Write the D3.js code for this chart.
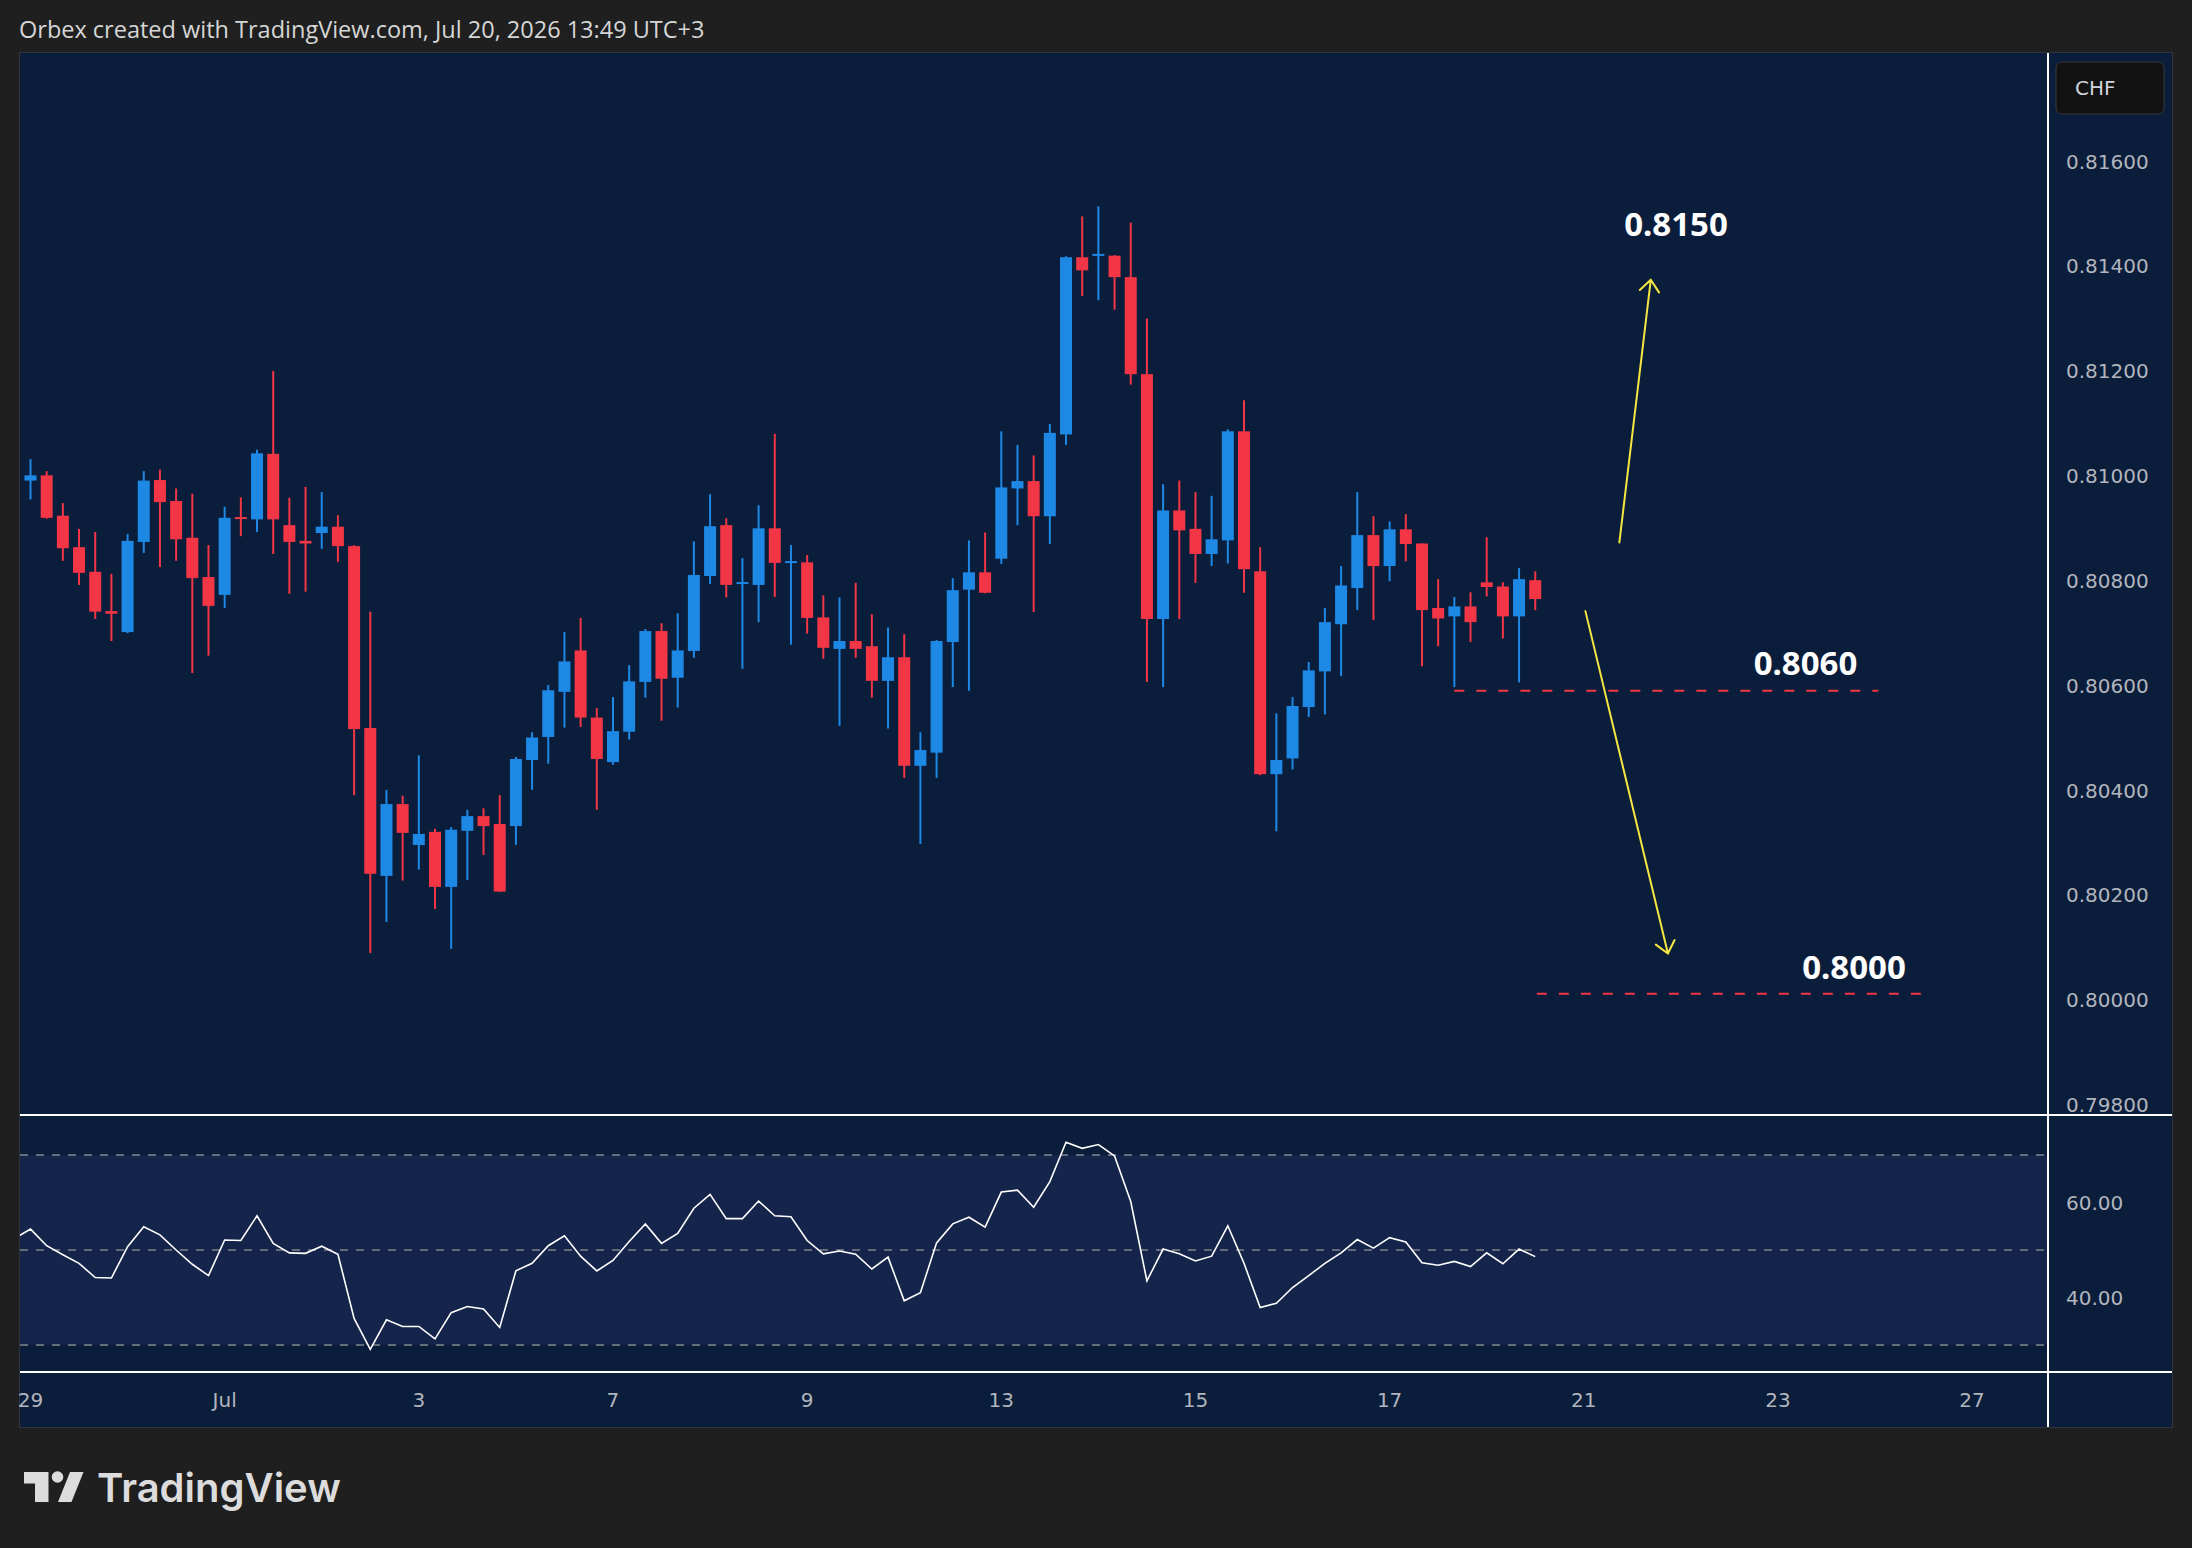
<!DOCTYPE html>
<html>
<head>
<meta charset="utf-8">
<script src="https://cdn.jsdelivr.net/npm/d3@7"></script>
<style>
  body { margin: 0; background: #1f1f1f; }
  svg { display: block; }
</style>
</head>
<body>
<div id="chart"></div>
<script>
// 4H USD/CHF candles, Jun 29 -> Jul 20
var openP  = [0.80991,0.81001,0.80924,0.80864,0.80817,0.80742,0.80702,0.80874,0.80992,0.80952,
              0.80882,0.80807,0.80773,0.80921,0.80917,0.81042,0.80906,0.80876,0.80891,0.80903,
              0.80866,0.80519,0.80237,0.80374,0.80296,0.80321,0.80216,0.80323,0.80351,0.80336,
              0.80332,0.80458,0.80502,0.80588,0.80667,0.80539,0.80454,0.80512,0.80607,0.80704,
              0.80615,0.80666,0.80809,0.80906,0.80794,0.80792,0.80900,0.80834,0.80835,0.80730,
              0.80670,0.80685,0.80675,0.80609,0.80654,0.80447,0.80472,0.80683,0.80783,0.80816,
              0.80842,0.80976,0.80990,0.80923,0.81079,0.81417,0.81420,0.81420,0.81379,0.81194,
              0.80727,0.80934,0.80899,0.80851,0.80877,0.81085,0.80818,0.80431,0.80461,0.80559,
              0.80627,0.80717,0.80786,0.80887,0.80828,0.80898,0.80871,0.80748,0.80732,0.80751,
              0.80797,0.80789,0.80732,0.80801];
var highP  = [0.81032,0.81009,0.80948,0.80899,0.80893,0.80813,0.80889,0.81009,0.81012,0.80976,
              0.80966,0.80868,0.80941,0.80959,0.81050,0.81200,0.80958,0.80979,0.80969,0.80925,
              0.80868,0.80741,0.80401,0.80390,0.80467,0.80327,0.80330,0.80363,0.80366,0.80391,
              0.80464,0.80511,0.80601,0.80702,0.80729,0.80557,0.80578,0.80639,0.80708,0.80719,
              0.80738,0.80875,0.80965,0.80919,0.80843,0.80944,0.81080,0.80868,0.80849,0.80772,
              0.80768,0.80796,0.80736,0.80711,0.80698,0.80511,0.80687,0.80805,0.80877,0.80892,
              0.81085,0.81059,0.81039,0.81099,0.81419,0.81495,0.81514,0.81421,0.81483,0.81300,
              0.80984,0.80991,0.80969,0.80962,0.81089,0.81144,0.80864,0.80547,0.80578,0.80645,
              0.80748,0.80828,0.80969,0.80923,0.80913,0.80927,0.80871,0.80803,0.80769,0.80778,
              0.80883,0.80797,0.80824,0.80818];
var lowP   = [0.80955,0.80918,0.80838,0.80792,0.80727,0.80685,0.80700,0.80853,0.80826,0.80838,
              0.80624,0.80657,0.80748,0.80885,0.80893,0.80851,0.80775,0.80779,0.80861,0.80836,
              0.80391,0.80090,0.80149,0.80228,0.80249,0.80174,0.80098,0.80229,0.80277,0.80207,
              0.80296,0.80401,0.80451,0.80520,0.80521,0.80363,0.80449,0.80497,0.80577,0.80533,
              0.80558,0.80653,0.80794,0.80768,0.80632,0.80721,0.80769,0.80678,0.80699,0.80651,
              0.80523,0.80653,0.80577,0.80518,0.80424,0.80298,0.80424,0.80597,0.80590,0.80776,
              0.80832,0.80906,0.80740,0.80870,0.81059,0.81343,0.81335,0.81317,0.81174,0.80607,
              0.80597,0.80727,0.80796,0.80828,0.80833,0.80777,0.80429,0.80322,0.80440,0.80540,
              0.80545,0.80618,0.80744,0.80725,0.80799,0.80837,0.80637,0.80675,0.80597,0.80683,
              0.80770,0.80690,0.80606,0.80744];
var closeP = [0.81001,0.80920,0.80862,0.80815,0.80741,0.80737,0.80876,0.80991,0.80950,0.80879,
              0.80805,0.80752,0.80920,0.80918,0.81043,0.80917,0.80874,0.80871,0.80903,0.80866,
              0.80517,0.80241,0.80374,0.80319,0.80317,0.80216,0.80325,0.80351,0.80332,0.80207,
              0.80460,0.80501,0.80591,0.80646,0.80539,0.80460,0.80513,0.80608,0.80704,0.80613,
              0.80667,0.80811,0.80904,0.80792,0.80797,0.80900,0.80834,0.80837,0.80729,0.80672,
              0.80685,0.80670,0.80609,0.80654,0.80447,0.80477,0.80685,0.80782,0.80816,0.80777,
              0.80978,0.80990,0.80923,0.81082,0.81417,0.81392,0.81423,0.81379,0.81194,0.80727,
              0.80934,0.80896,0.80851,0.80879,0.81085,0.80822,0.80431,0.80458,0.80561,0.80629,
              0.80721,0.80791,0.80887,0.80828,0.80898,0.80870,0.80744,0.80728,0.80751,0.80721,
              0.80788,0.80732,0.80803,0.80765];

// RSI(14), one value per candle, starting with the bar just left of the view
var rsiFirstBar = -1;
var rsi = [52.4,
           54.4,50.9,49.0,47.2,44.2,44.1,50.7,54.9,53.2,50.0,
           47.0,44.6,52.1,52.0,57.2,51.4,49.4,49.3,50.8,49.1,
           35.6,29.1,35.3,33.9,33.9,31.3,36.8,38.1,37.6,33.7,
           45.6,47.2,50.9,53.0,48.7,45.6,47.8,51.8,55.5,51.4,
           53.5,58.8,61.7,56.6,56.6,60.3,57.2,57.0,52.0,49.2,
           49.8,49.1,46.0,48.5,39.3,41.0,51.5,55.5,56.9,54.8,
           62.2,62.6,59.0,64.4,72.7,71.4,72.2,69.8,60.2,43.5,
           50.2,49.2,47.7,48.7,55.1,47.2,37.9,38.8,42.1,44.6,
           47.2,49.4,52.2,50.4,52.6,51.7,47.3,46.8,47.6,46.5,
           49.4,47.1,50.2,48.6];

var dayLabels = ["29", "Jul", "3", "7", "9", "13", "15", "17", "21", "23", "27"];
var dayBars   = [0, 12, 24, 36, 48, 60, 72, 84, 96, 108, 120];

var priceTicks = [0.816, 0.814, 0.812, 0.810, 0.808, 0.806, 0.804, 0.802, 0.800, 0.798];
var rsiTicks   = [60, 40];
var rsiLevels  = [70, 50, 30];

// horizontal target levels (bar index span, price)
var levelPrices = [0.80590, 0.80012];
var levelFrom   = [88, 93.1];
var levelTo     = [114.2, 116.9];

// text labels (bar index, price)
var noteText  = ["0.8150", "0.8060", "0.8000"];
var noteBar   = [98.5, 106.5, 109.5];
var notePrice = [0.81457, 0.80620, 0.80040];

// scenario arrows: [bar, price] start -> tip
var arrowFrom = [[98.2, 0.80873], [96.1, 0.80742]];
var arrowTo   = [[100.14, 0.81374], [101.2, 0.80089]];

var W = 2192, H = 1548;
var paneL = 20, axisX = 2048, paneR = 2172;
var mainTop = 53, mainBot = 1115, rsiBot = 1372, chartBot = 1427;

var navy = "#0a1d3a", blue = "#1e88e5", red = "#f23645", yellow = "#f5e642";

var svg = d3.select("#chart").append("svg")
    .attr("width", W)
    .attr("height", H)
    .style("background", "#1f1f1f");

svg.append("text")
    .attr("x", 19)
    .attr("y", 38)
    .attr("fill", "#d6d6d6")
    .style("font-family", "'Open Sans', sans-serif")
    .style("font-size", "23.5px")
    .text("Orbex created with TradingView.com, Jul 20, 2026 13:49 UTC+3");

svg.append("rect")
    .attr("x", paneL - 0.5).attr("y", mainTop - 0.5)
    .attr("width", paneR - paneL + 1).attr("height", chartBot - mainTop + 1)
    .attr("fill", navy)
    .attr("stroke", "#30343f");

var defs = svg.append("defs");
defs.append("clipPath").attr("id", "clipMain").append("rect")
    .attr("x", paneL).attr("y", mainTop).attr("width", axisX - paneL).attr("height", mainBot - mainTop);
defs.append("clipPath").attr("id", "clipRsi").append("rect")
    .attr("x", paneL).attr("y", mainBot).attr("width", axisX - paneL).attr("height", rsiBot - mainBot);

var x = d3.scaleLinear().domain([0, 93]).range([30.5, 30.5 + 93 * 16.18]);
var y = d3.scaleLinear().domain([0.798, 0.816]).range([1105, 161.3]);
var yr = d3.scaleLinear().domain([30, 70]).range([1345, 1155]);

// ---- main pane
var main = svg.append("g").attr("clip-path", "url(#clipMain)");

var bars = d3.range(openP.length).map(function(i) {
    return {i: i, o: openP[i], h: highP[i], l: lowP[i], c: closeP[i]};
});
function col(d) { return d.c >= d.o ? blue : red; }

var candle = main.selectAll("g.candle")
    .data(bars)
    .enter().append("g")
    .attr("class", "candle");

candle.append("line")
    .attr("x1", function(d) { return x(d.i); })
    .attr("x2", function(d) { return x(d.i); })
    .attr("y1", function(d) { return y(d.h); })
    .attr("y2", function(d) { return y(d.l); })
    .attr("stroke", col)
    .attr("stroke-width", 2);

candle.append("rect")
    .attr("x", function(d) { return x(d.i) - 6; })
    .attr("width", 12)
    .attr("y", function(d) {
        var t = y(Math.max(d.o, d.c)), b = y(Math.min(d.o, d.c));
        return b - t < 2 ? (t + b) / 2 - 1 : t;
    })
    .attr("height", function(d) { return Math.max(2, y(Math.min(d.o, d.c)) - y(Math.max(d.o, d.c))); })
    .attr("fill", col);

// dashed target levels
main.selectAll("line.level")
    .data(levelPrices)
    .enter().append("line")
    .attr("class", "level")
    .attr("x1", function(d, i) { return x(levelFrom[i]); })
    .attr("x2", function(d, i) { return x(levelTo[i]); })
    .attr("y1", function(d) { return y(d); })
    .attr("y2", function(d) { return y(d); })
    .attr("stroke", red)
    .attr("stroke-width", 2)
    .attr("stroke-dasharray", "10,12");

// arrows
var arrows = main.selectAll("g.arrow")
    .data(arrowFrom)
    .enter().append("g")
    .attr("class", "arrow");

arrows.append("path")
    .attr("fill", "none")
    .attr("stroke", yellow)
    .attr("stroke-width", 2)
    .attr("stroke-linecap", "round")
    .attr("d", function(d, i) {
        var x0 = x(d[0]), y0 = y(d[1]);
        var x1 = x(arrowTo[i][0]), y1 = y(arrowTo[i][1]);
        var ang = Math.atan2(y0 - y1, x0 - x1), len = 15, spread = 40 * Math.PI / 180;
        var ax = x1 + len * Math.cos(ang - spread), ay = y1 + len * Math.sin(ang - spread);
        var bx = x1 + len * Math.cos(ang + spread), by = y1 + len * Math.sin(ang + spread);
        return "M" + x0 + "," + y0 + "L" + x1 + "," + y1 +
               "M" + ax + "," + ay + "L" + x1 + "," + y1 + "L" + bx + "," + by;
    });

main.selectAll("text.note")
    .data(noteText)
    .enter().append("text")
    .attr("class", "note")
    .attr("x", function(d, i) { return x(noteBar[i]); })
    .attr("y", function(d, i) { return y(notePrice[i]); })
    .attr("fill", "#ffffff")
    .style("font-family", "'Noto Sans', sans-serif")
    .style("font-weight", 700)
    .style("font-size", "33px")
    .text(function(d) { return d; });

// ---- RSI pane
var rsiG = svg.append("g").attr("clip-path", "url(#clipRsi)");

rsiG.append("rect")
    .attr("x", paneL).attr("width", axisX - paneL)
    .attr("y", yr(70)).attr("height", yr(30) - yr(70))
    .attr("fill", "#15244a");

rsiG.selectAll("line.lvl")
    .data(rsiLevels)
    .enter().append("line")
    .attr("x1", paneL).attr("x2", axisX)
    .attr("y1", yr).attr("y2", yr)
    .attr("stroke", "#80838c")
    .attr("stroke-width", 1.5)
    .attr("stroke-dasharray", "8,8");

rsiG.append("path")
    .datum(rsi)
    .attr("fill", "none")
    .attr("stroke", "#ffffff")
    .attr("stroke-width", 1.6)
    .attr("d", d3.line()
        .x(function(d, i) { return x(i + rsiFirstBar); })
        .y(function(d) { return yr(d); }));

// ---- separators
svg.append("line")
    .attr("x1", axisX).attr("x2", axisX).attr("y1", mainTop).attr("y2", chartBot)
    .attr("stroke", "#ffffff").attr("stroke-width", 2);
svg.selectAll("line.sep")
    .data([mainBot, rsiBot])
    .enter().append("line")
    .attr("x1", paneL).attr("x2", paneR)
    .attr("y1", function(d) { return d; }).attr("y2", function(d) { return d; })
    .attr("stroke", "#ffffff").attr("stroke-width", 2);

// ---- price axis
var axisFont = "'DejaVu Sans', sans-serif";
svg.append("g").selectAll("text")
    .data(priceTicks)
    .enter().append("text")
    .attr("x", 2066)
    .attr("y", function(d) { return y(d); })
    .attr("dy", "0.36em")
    .attr("fill", "#b2b5be")
    .style("font-family", axisFont)
    .style("font-size", "20px")
    .text(function(d) { return d3.format(".5f")(d); });

svg.append("g").selectAll("text")
    .data(rsiTicks)
    .enter().append("text")
    .attr("x", 2066)
    .attr("y", function(d) { return yr(d); })
    .attr("dy", "0.36em")
    .attr("fill", "#b2b5be")
    .style("font-family", axisFont)
    .style("font-size", "20px")
    .text(function(d) { return d3.format(".2f")(d); });

// currency badge
svg.append("rect")
    .attr("x", 2056).attr("y", 62).attr("width", 108).attr("height", 52)
    .attr("rx", 6)
    .attr("fill", "#121212").attr("stroke", "#3a3a3a");
svg.append("text")
    .attr("x", 2075).attr("y", 88).attr("dy", "0.36em")
    .attr("fill", "#d1d4dc")
    .style("font-family", axisFont)
    .style("font-size", "20px")
    .text("CHF");

// ---- time axis
svg.append("g").selectAll("text")
    .data(dayLabels)
    .enter().append("text")
    .attr("x", function(d, i) { return x(dayBars[i]); })
    .attr("y", 1400)
    .attr("dy", "0.36em")
    .attr("text-anchor", "middle")
    .attr("fill", "#b2b5be")
    .style("font-family", axisFont)
    .style("font-size", "20px")
    .text(function(d) { return d; });

// ---- TradingView logo
var logo = svg.append("g").attr("fill", "#dcdcdc");
logo.append("path").attr("d", "M24,1472H48.5V1502H35V1483.5H24Z");
logo.append("circle").attr("cx", 57.5).attr("cy", 1477).attr("r", 5.8);
logo.append("path").attr("d", "M70,1472H83.5L71.5,1502H58Z");
logo.append("text")
    .attr("x", 97).attr("y", 1502)
    .style("font-family", "Inter, sans-serif")
    .style("font-weight", 600)
    .style("font-size", "40px")
    .text("TradingView");
</script>
</body>
</html>
